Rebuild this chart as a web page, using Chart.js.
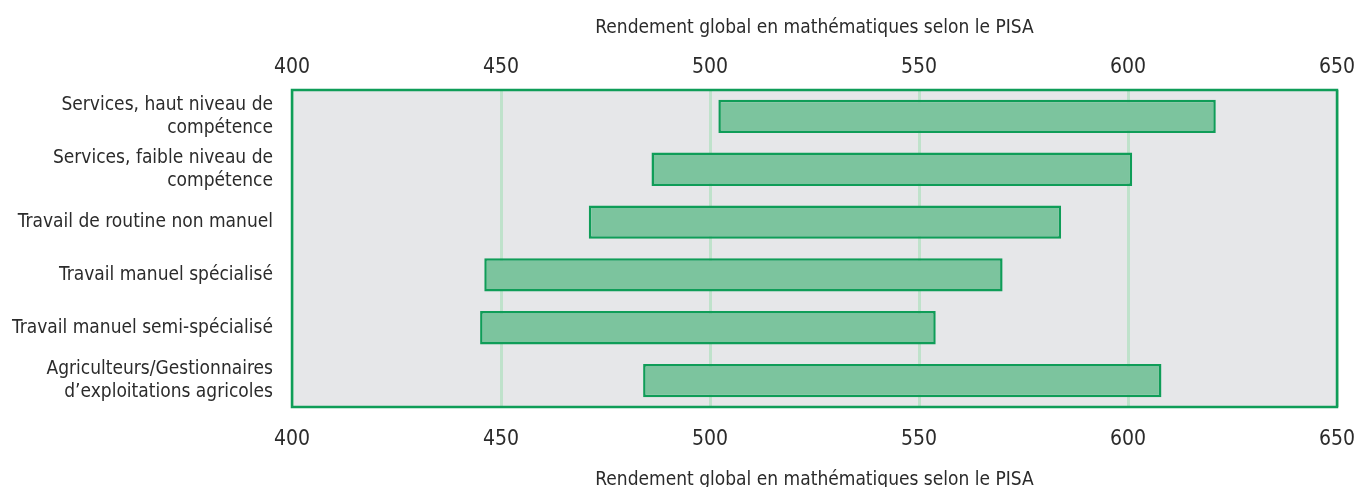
<!DOCTYPE html>
<html>
<head>
<meta charset="utf-8">
<script src="https://cdn.jsdelivr.net/npm/chart.js@4.4.0/dist/chart.umd.min.js"></script>
<style>
    html, body { margin: 0; padding: 0; background: #fff; }
    #wrap { width: 1355px; height: 487px; }
</style>
</head>
<body>
<div id="wrap"><canvas id="pisaChart" width="1355" height="487"></canvas></div>
<script>
    const categories = [
        ["Services, haut niveau de", "compétence"],
        ["Services, faible niveau de", "compétence"],
        "Travail de routine non manuel",
        "Travail manuel spécialisé",
        "Travail manuel semi-spécialisé",
        ["Agriculteurs/Gestionnaires", "d’exploitations agricoles"]
    ];
    const range_low = [502, 486, 471, 446, 445, 484];
    const range_high = [621, 601, 584, 570, 554, 608];
    const axis_title = "Rendement global en mathématiques selon le PISA";

    const font_family = "'Liberation Sans Narrow', 'DejaVu Sans Condensed', sans-serif";
    const text_color = "#2b2b2b";

    // plot area background + frame
    const plot_background = {
        id: "plot_background",
        beforeDraw(chart) {
            const area = chart.chartArea;
            const ctx = chart.ctx;
            ctx.save();
            ctx.fillStyle = "#e6e7e9";
            ctx.fillRect(area.left, area.top, area.right - area.left, area.bottom - area.top);
            ctx.restore();
        },
        afterDraw(chart) {
            const area = chart.chartArea;
            const ctx = chart.ctx;
            ctx.save();
            ctx.strokeStyle = "#0f9d58";
            ctx.lineWidth = 2.5;
            ctx.strokeRect(area.left, area.top, area.right - area.left, area.bottom - area.top);
            ctx.restore();
        }
    };

    new Chart(document.getElementById("pisaChart"), {
        type: "bar",
        data: {
            labels: categories,
            datasets: [{
                data: range_low.map((v, i) => [v, range_high[i]]),
                backgroundColor: "#7cc49e",
                borderColor: "#0f9d58",
                borderWidth: 2.5,
                borderSkipped: false,
                categoryPercentage: 1,
                barPercentage: 0.63,
                xAxisID: "x"
            }]
        },
        options: {
            indexAxis: "y",
            responsive: false,
            animation: false,
            layout: { padding: 0 },
            plugins: {
                legend: { display: false },
                tooltip: { enabled: false }
            },
            scales: {
                x: {
                    type: "linear",
                    position: "bottom",
                    min: 400,
                    max: 650,
                    grid: { drawTicks: false, color: "#bfe2cb", lineWidth: 3 },
                    border: { display: false },
                    ticks: {
                        stepSize: 50,
                        padding: 20,
                        color: text_color,
                        font: { family: font_family, size: 21 }
                    },
                    title: {
                        display: true,
                        text: axis_title,
                        color: text_color,
                        font: { family: font_family, size: 19 },
                        padding: { top: 14, bottom: -4 }
                    },
                    afterFit(scale) {
                        scale.height = 80;
                        scale.paddingLeft = 0;
                        scale.paddingRight = 18;
                    }
                },
                x2: {
                    type: "linear",
                    position: "top",
                    min: 400,
                    max: 650,
                    grid: { display: false },
                    border: { display: false },
                    ticks: {
                        stepSize: 50,
                        padding: 2,
                        color: text_color,
                        font: { family: font_family, size: 21 }
                    },
                    title: {
                        display: true,
                        text: axis_title,
                        color: text_color,
                        font: { family: font_family, size: 19 },
                        padding: { top: 17, bottom: 10 }
                    },
                    afterFit(scale) {
                        scale.height = 90;
                        scale.paddingLeft = 0;
                        scale.paddingRight = 18;
                    }
                },
                y: {
                    grid: { display: false },
                    border: { display: false },
                    ticks: {
                        color: text_color,
                        padding: 11,
                        font: { family: font_family, size: 19, lineHeight: 1.2 }
                    },
                    afterFit(scale) { scale.width = 292; }
                }
            }
        },
        plugins: [plot_background]
    });
</script>
</body>
</html>
